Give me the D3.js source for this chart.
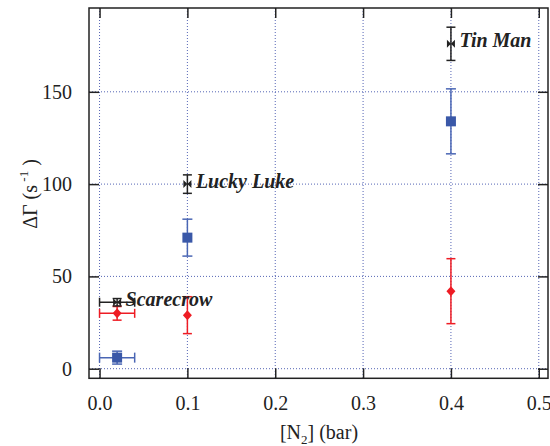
<!DOCTYPE html>
<html>
<head>
<meta charset="utf-8">
<script src="https://cdn.jsdelivr.net/npm/d3@7"></script>
<style>
  body { margin: 0; background: #fff; }
  svg { display: block; }
</style>
</head>
<body>
<svg id="chart" width="550" height="446"></svg>
<script>
// Relaxation rate change versus N2 pressure for three samples
const xTicks = [0.0, 0.1, 0.2, 0.3, 0.4, 0.5];
const yTicks = [0, 50, 100, 150];

// Black bow-tie series (labelled samples)
const blackX    = [0.02, 0.1, 0.4];
const blackY    = [36, 100, 176];
const blackYErr = [2, 5, 9];
const blackXErr = [0.02, 0, 0];
const blackNames = ["Scarecrow", "Lucky Luke", "Tin Man"];

// Blue square series
const blueX    = [0.02, 0.1, 0.4];
const blueY    = [6, 71, 134];
const blueYErr = [3.5, 10, 17.6];
const blueXErr = [0.02, 0, 0];

// Red diamond series
const redX    = [0.02, 0.1, 0.4];
const redY    = [30, 29, 42];
const redYErr = [3.7, 10, 17.6];
const redXErr = [0.02, 0, 0];

const svg = d3.select("#chart");
const pLeft = 89, pRight = 548, pTop = 8, pBottom = 378.3;
const serif = "'Liberation Serif', Tinos, Times, 'Nimbus Roman', 'Nimbus Roman No9 L', " +
  "FreeSerif, 'Noto Serif', 'Noto Serif CJK SC', 'Source Serif Pro', 'DejaVu Serif', Georgia, serif";

const x = d3.scaleLinear().domain([-0.012, 0.5105]).range([pLeft, pRight]);
const y = d3.scaleLinear().domain([-5.2, 195.4]).range([pBottom, pTop]);

const frameColor = "#222";
const gridColor = "#5565b5";

// dotted grid
const grid = svg.append("g");
grid.selectAll("line.gx").data(xTicks).join("line")
  .attr("x1", d => x(d)).attr("x2", d => x(d))
  .attr("y1", pTop).attr("y2", pBottom)
  .attr("stroke", gridColor).attr("stroke-width", 1)
  .attr("stroke-dasharray", "1,2");
grid.selectAll("line.gy").data(yTicks).join("line")
  .attr("y1", d => y(d)).attr("y2", d => y(d))
  .attr("x1", pLeft).attr("x2", pRight)
  .attr("stroke", gridColor).attr("stroke-width", 1)
  .attr("stroke-dasharray", "1,2");

// axes with inward ticks on all four sides
const tickLen = 10;
const axB = svg.append("g").attr("transform", `translate(0,${pBottom})`)
  .call(d3.axisBottom(x).tickValues(xTicks).tickSize(-tickLen).tickPadding(18)
    .tickFormat(d3.format(".1f")));
const axT = svg.append("g").attr("transform", `translate(0,${pTop})`)
  .call(d3.axisTop(x).tickValues(xTicks).tickSize(-tickLen).tickFormat(""));
const axL = svg.append("g").attr("transform", `translate(${pLeft},0)`)
  .call(d3.axisLeft(y).tickValues(yTicks).tickSize(-tickLen).tickPadding(17));
const axR = svg.append("g").attr("transform", `translate(${pRight},0)`)
  .call(d3.axisRight(y).tickValues(yTicks).tickSize(-tickLen).tickFormat(""));

[axB, axT, axL, axR].forEach(a => {
  a.attr("font-family", serif).attr("font-size", 20);
  a.select(".domain").remove();
  a.selectAll(".tick line").attr("stroke", frameColor).attr("stroke-width", 1.5);
  a.selectAll(".tick text").attr("fill", "#222");
});

// frame
svg.append("rect")
  .attr("x", pLeft).attr("y", pTop)
  .attr("width", pRight - pLeft).attr("height", pBottom - pTop)
  .attr("fill", "none").attr("stroke", frameColor).attr("stroke-width", 1.5);

// error bars and markers
function drawSeries(xs, ys, yerr, xerr, color, markerFn, capW) {
  const g = svg.append("g");
  const data = xs.map((d, i) => ({x: d, y: ys[i], ey: yerr[i], ex: xerr[i]}));
  data.forEach(d => {
    const cx = x(d.x), cy = y(d.y);
    if (d.ey > 0) {
      const y1 = y(d.y + d.ey), y2 = y(d.y - d.ey);
      g.append("line").attr("x1", cx).attr("x2", cx).attr("y1", y1).attr("y2", y2)
        .attr("stroke", color).attr("stroke-width", 1.5);
      [y1, y2].forEach(yy => g.append("line")
        .attr("x1", cx - capW / 2).attr("x2", cx + capW / 2)
        .attr("y1", yy).attr("y2", yy)
        .attr("stroke", color).attr("stroke-width", 1.5));
    }
    if (d.ex > 0) {
      const x1 = x(d.x - d.ex), x2 = x(d.x + d.ex);
      g.append("line").attr("x1", x1).attr("x2", x2).attr("y1", cy).attr("y2", cy)
        .attr("stroke", color).attr("stroke-width", 1.5);
      [x1, x2].forEach(xx => g.append("line")
        .attr("x1", xx).attr("x2", xx)
        .attr("y1", cy - capW / 2).attr("y2", cy + capW / 2)
        .attr("stroke", color).attr("stroke-width", 1.5));
    }
    markerFn(g, cx, cy);
  });
}

const blue = "#3a58a8", red = "#ee1c24", black = "#222";

drawSeries(redX, redY, redYErr, redXErr, red, (g, cx, cy) => {
  g.append("path").attr("d", `M${cx},${cy - 5}L${cx + 4.5},${cy}L${cx},${cy + 5}L${cx - 4.5},${cy}Z`)
    .attr("fill", red);
}, 9);

drawSeries(blueX, blueY, blueYErr, blueXErr, "#4a66b4", (g, cx, cy) => {
  g.append("rect").attr("x", cx - 5).attr("y", cy - 5).attr("width", 10).attr("height", 10)
    .attr("fill", blue);
}, 10);

drawSeries(blackX, blackY, blackYErr, blackXErr, black, (g, cx, cy) => {
  g.append("path").attr("d", `M${cx - 4},${cy - 4}L${cx + 4},${cy + 4}L${cx + 4},${cy - 4}L${cx - 4},${cy + 4}Z`)
    .attr("fill", black);
}, 9);

// sample names next to the black points
svg.append("g").selectAll("text").data(blackNames).join("text")
  .attr("x", (d, i) => x(blackX[i]) + 8.5)
  .attr("y", (d, i) => y(blackY[i]) + 3.5)
  .attr("font-family", serif)
  .attr("font-size", 20).attr("font-weight", "bold").attr("font-style", "italic")
  .attr("fill", "#222")
  .text(d => d);

// axis titles
const xt = svg.append("text").attr("x", 319).attr("y", 439)
  .attr("text-anchor", "middle").attr("font-size", 20)
  .attr("font-family", serif).attr("fill", "#222");
xt.append("tspan").text("[N");
xt.append("tspan").attr("font-size", 13).attr("dy", 5).text("2");
xt.append("tspan").attr("dy", -5).text("] (bar)");

const yt = svg.append("text")
  .attr("transform", "translate(37,194) rotate(-90)")
  .attr("text-anchor", "middle").attr("font-size", 20)
  .attr("font-family", serif).attr("fill", "#222");
yt.append("tspan").text("ΔΓ (s");
yt.append("tspan").attr("font-size", 13).attr("dy", -9).text(" -1");
yt.append("tspan").attr("dy", 9).text(" )");
</script>
</body>
</html>
